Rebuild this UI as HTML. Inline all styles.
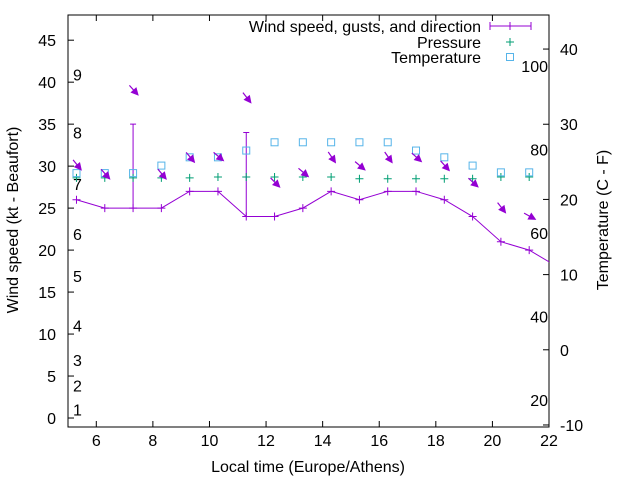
<!DOCTYPE html>
<html><head><meta charset="utf-8"><style>
body{margin:0;background:#fff}
svg{display:block;font-family:"Liberation Sans",sans-serif}
</style></head><body>
<svg id="chart" width="640" height="480" viewBox="0 0 640 480">
<rect width="640" height="480" fill="#fff"/>
<g id="grid"></g>
<g id="marks"></g>
</svg>
<script>
const hours=[5.3,6.3,7.3,8.3,9.3,10.3,11.3,12.3,13.3,14.3,15.3,16.3,17.3,18.3,19.3,20.3,21.3,22.3];
const windSpeed=[26,25,25,25,27,27,24,24,25,27,26,27,27,26,24,21,20,18];
const gustHours=[7.3,11.3];
const gustBase=[25,24];
const gustSpeed=[35,34];
const pressure=[28.6,28.6,28.6,28.6,28.6,28.7,28.7,28.7,28.7,28.7,28.5,28.5,28.5,28.5,28.5,28.7,28.7];
const temperature=[23.5,23.5,23.5,24.5,25.6,25.6,26.5,27.6,27.6,27.6,27.6,27.6,26.5,25.6,24.5,23.6,23.6];
const arrowY=[30.1,29.0,39.0,29.0,31.0,31.1,38.1,28.0,29.2,31.0,30.0,31.0,31.0,30.0,28.0,25.0,24.0];
const windDir=[321,318,318,320,320,310,322,315,310,326,310,325,312,318,312,322,299];
const xTicks=[6,8,10,12,14,16,18,20,22];
const yTicks=[0,5,10,15,20,25,30,35,40,45];
const y2Ticks=[-10,0,10,20,30,40];
const beaufortLabels=["1","2","3","4","5","6","7","8","9"];
const beaufortY=[1,3.9,6.9,11,16.9,21.9,27.9,34,40.9];
const fLabels=["20","40","60","80","100"];
const fValues=[20,40,60,80,100];

const L=68,R=549,T=15,B=427,FS=16;
const X=v=>L+(v-5)*(R-L)/17;
const Y=v=>B-(v+1.07)*(B-T)/49.07;
const Y2=v=>B-(v+10.27)*(B-T)/54.8;
const ns="http://www.w3.org/2000/svg";
const g=document.getElementById('grid'),m=document.getElementById('marks');
function el(p,t,a,txt){const e=document.createElementNS(ns,t);for(const k in a)e.setAttribute(k,a[k]);if(txt!==undefined)e.textContent=txt;p.appendChild(e);return e;}

let f=el(g,'rect',{x:L,y:T,width:R-L,height:B-T,fill:'none',stroke:'#000','stroke-width':1});

xTicks.forEach(v=>{const x=X(v);
 el(g,'line',{x1:x,y1:B,x2:x,y2:B-6,stroke:'#000'});el(g,'line',{x1:x,y1:T,x2:x,y2:T+6,stroke:'#000'});
 const t=el(g,'text',{x:x,y:B+19,'font-size':FS,'text-anchor':'middle'},String(v));
 });
yTicks.forEach(v=>{const y=Y(v);
 el(g,'line',{x1:L,y1:y,x2:L+6,y2:y,stroke:'#000'});
 const t=el(g,'text',{x:L-12,y:y+6,'font-size':FS,'text-anchor':'end'},String(v));
 });
y2Ticks.forEach(v=>{const y=Y2(v);
 el(g,'line',{x1:R,y1:y,x2:R-6,y2:y,stroke:'#000'});
 const t=el(g,'text',{x:R+11,y:y+6,'font-size':FS},String(v));
 });
beaufortLabels.forEach((s,i)=>{const t=el(g,'text',{x:73,y:Y(beaufortY[i])+6,'font-size':FS},s);
 });
fLabels.forEach((s,i)=>{const c=(fValues[i]-32)*5/9;const t=el(g,'text',{x:548,y:Y2(c)+6,'font-size':FS,'text-anchor':'end'},s);
 });
let t=el(g,'text',{x:308,y:472,'font-size':FS,'text-anchor':'middle'},'Local time (Europe/Athens)');

t=el(g,'text',{x:0,y:0,'font-size':FS,'text-anchor':'middle',transform:'translate(18,220) rotate(-90)'},'Wind speed (kt - Beaufort)');

t=el(g,'text',{x:0,y:0,'font-size':FS,'text-anchor':'middle',transform:'translate(608,220) rotate(-90)'},'Temperature (C - F)');


const P='#9400d3',G='#009e73',C='#56b4e9';
const cp=el(m,'clipPath',{id:'cp'});el(cp,'rect',{x:L,y:T,width:R-L,height:B-T});
const lg=el(m,'g',{'clip-path':'url(#cp)'});
let wl=el(lg,'polyline',{points:hours.map((h,i)=>X(h)+','+Y(windSpeed[i])).join(' '),fill:'none',stroke:P,'stroke-width':1});

hours.forEach((h,i)=>{const x=X(h),y=Y(windSpeed[i]);
 const p=el(lg,'path',{d:`M${x-4},${y}h8M${x},${y-4}v8`,stroke:P});
 });
gustHours.forEach((h,i)=>{const x=X(h),y1=Y(gustBase[i]),y2=Y(gustSpeed[i]);
 const p=el(m,'path',{d:`M${x},${y1}V${y2}M${x-3},${y2}h6`,stroke:P});
 });
pressure.forEach((v,i)=>{const x=X(hours[i]),y=Y(v);
 const p=el(m,'path',{d:`M${x-4},${y}h8M${x},${y-4}v8`,stroke:G});
 });
temperature.forEach((v,i)=>{const x=X(hours[i]),y=Y2(v);
 const r=el(m,'rect',{x:x-3.5,y:y-3.5,width:7,height:7,fill:'none',stroke:C});
 });
arrowY.forEach((v,i)=>{const cx=X(hours[i])+1,cy=Y(v);const b=(windDir[i]+180)*Math.PI/180;
 const dx=Math.sin(b),dy=-Math.cos(b),len=14;
 const x1=cx-dx*len/2,y1=cy-dy*len/2,x2=cx+dx*len/2,y2=cy+dy*len/2;
 const px=-dy,py=dx;
 const gg=el(m,'g',{});
 
 el(gg,'line',{x1:x1,y1:y1,x2:x2-dx*5,y2:y2-dy*5,stroke:P,'stroke-width':1.2});
 el(gg,'polygon',{points:`${x2},${y2} ${x2-dx*8+px*4},${y2-dy*8+py*4} ${x2-dx*8-px*4},${y2-dy*8-py*4}`,fill:P});});

const leg=el(m,'g',{});
[['Wind speed, gusts, and direction',26],['Pressure',42],['Temperature',57]].forEach(([s,y])=>{
 const e=el(leg,'text',{x:481,y:y+6,'font-size':FS,'text-anchor':'end'},s);
 });
el(leg,'path',{d:'M490,26H531M490,22v8M531,22v8M510,22v8',stroke:P});
el(leg,'path',{d:'M506,42h8M510,38v8',stroke:G});
el(leg,'rect',{x:506.5,y:53.5,width:7,height:7,fill:'none',stroke:C});
</script>
</body></html>
